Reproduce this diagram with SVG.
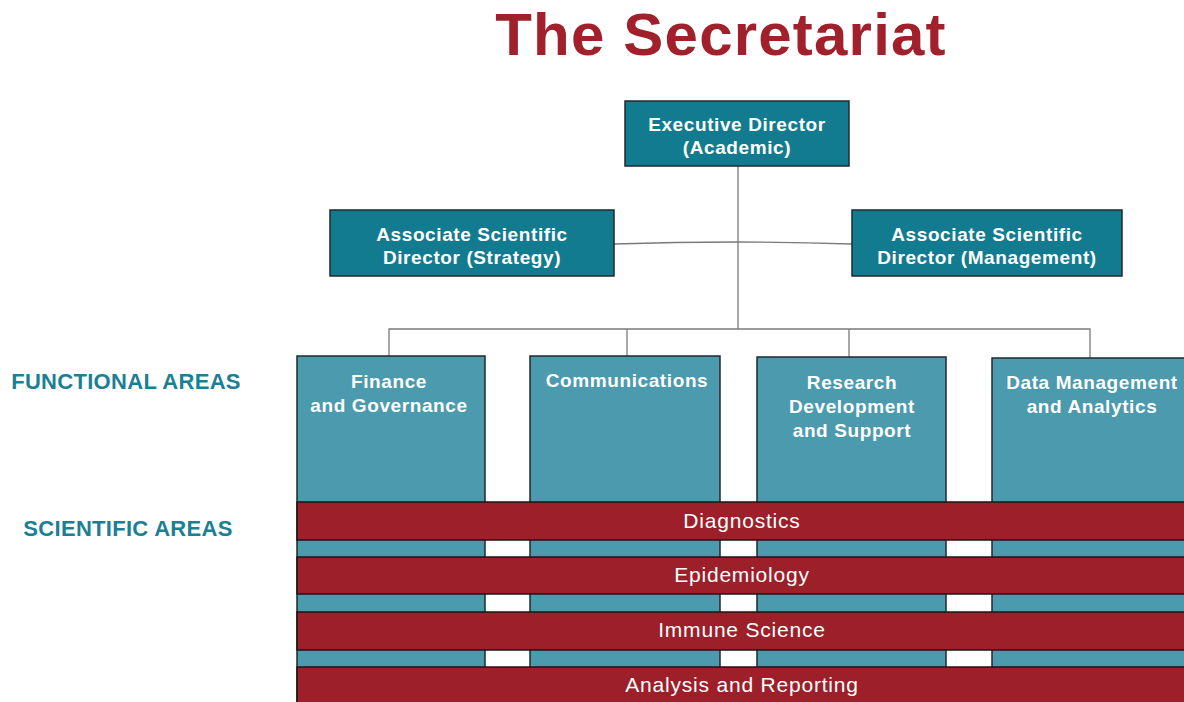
<svg xmlns="http://www.w3.org/2000/svg" width="1184" height="702" viewBox="0 0 1184 702">
<style>
.dark{fill:#137b8f;stroke:#1f2a2e;stroke-width:1.5}
.col{fill:#4b9aae;stroke:#1f2a2e;stroke-width:1.5}
.band{fill:#9c1f29;stroke:#1f1416;stroke-width:1.5}
.bt{font-family:"Liberation Sans",Arial,sans-serif;font-weight:bold;font-size:19px;fill:#ffffff;text-anchor:middle;letter-spacing:0.6px}
.rt{font-family:"Liberation Sans",Arial,sans-serif;font-size:21px;fill:#ffffff;text-anchor:middle;letter-spacing:0.8px}
.lab{font-family:"Liberation Sans",Arial,sans-serif;font-weight:bold;font-size:22px;fill:#1b7f95;text-anchor:middle;letter-spacing:0.3px}
.conn{stroke:#7a7a7a;stroke-width:1.3;fill:none}
</style>
<rect width="1184" height="702" fill="#ffffff"/>
<text x="721" y="55" font-family="'Liberation Sans',Arial,sans-serif" font-weight="bold" font-size="60" fill="#a0212b" text-anchor="middle" letter-spacing="1.2">The Secretariat</text>
<g id="connectors">
<line class="conn" x1="738" y1="166" x2="738" y2="329"/>
<path class="conn" d="M614,244 Q738,240 852,244"/>
<path class="conn" d="M389,356 V329 H1090 V358"/>
<line class="conn" x1="627" y1="329" x2="627" y2="356"/>
<line class="conn" x1="849" y1="329" x2="849" y2="357"/>
</g>
<g id="label-functional"><text class="lab" x="126" y="389">FUNCTIONAL AREAS</text></g>
<g id="label-scientific"><text class="lab" x="128" y="536">SCIENTIFIC AREAS</text></g>
<g id="exec"><rect class="dark" x="625" y="101" width="224" height="65"/>
<text class="bt" x="737" y="131">Executive Director</text><text class="bt" x="737" y="154">(Academic)</text></g>
<g id="assoc-strategy"><rect class="dark" x="330" y="210" width="284" height="66"/>
<text class="bt" x="472" y="241">Associate Scientific</text><text class="bt" x="472" y="264">Director (Strategy)</text></g>
<g id="assoc-management"><rect class="dark" x="852" y="210" width="270" height="66"/>
<text class="bt" x="987" y="241">Associate Scientific</text><text class="bt" x="987" y="264">Director (Management)</text></g>
<g id="finance"><rect class="col" x="297" y="356" width="188" height="350"/>
<text class="bt" x="389" y="388">Finance</text><text class="bt" x="389" y="412">and Governance</text></g>
<g id="communications"><rect class="col" x="530" y="356" width="190" height="350"/>
<text class="bt" x="627" y="387">Communications</text></g>
<g id="research"><rect class="col" x="757" y="357" width="189" height="350"/>
<text class="bt" x="852" y="389">Research</text><text class="bt" x="852" y="413">Development</text><text class="bt" x="852" y="437">and Support</text></g>
<g id="data"><rect class="col" x="992" y="358" width="200" height="350"/>
<text class="bt" x="1092" y="389">Data Management</text><text class="bt" x="1092" y="413">and Analytics</text></g>
<g id="diagnostics"><rect class="band" x="297" y="502" width="900" height="38"/>
<text class="rt" x="742" y="528">Diagnostics</text></g>
<g id="epidemiology"><rect class="band" x="297" y="557" width="900" height="37"/>
<text class="rt" x="742" y="582">Epidemiology</text></g>
<g id="immune"><rect class="band" x="297" y="612" width="900" height="38"/>
<text class="rt" x="742" y="637">Immune Science</text></g>
<g id="analysis"><rect class="band" x="297" y="667" width="900" height="40"/>
<text class="rt" x="742" y="692">Analysis and Reporting</text></g>
</svg>
